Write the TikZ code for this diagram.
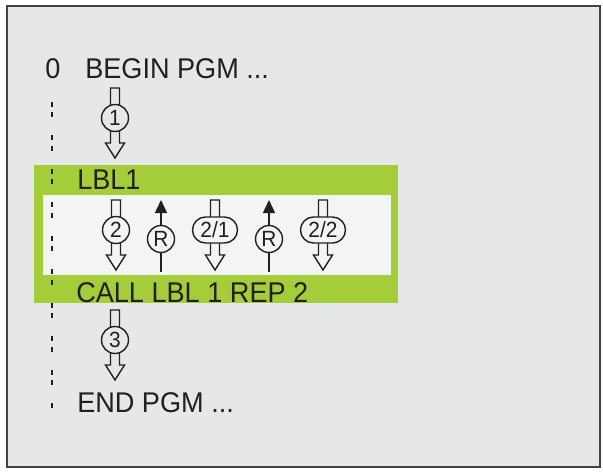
\documentclass[tikz,border=0pt]{standalone}
\usepackage{fontspec}
\setmainfont{Liberation Sans}[FakeStretch=0.95]
\usetikzlibrary{arrows.meta,shapes.misc}
\definecolor{bggray}{HTML}{E6E7E8}
\definecolor{lblgreen}{HTML}{A5CD39}
\definecolor{inwhite}{HTML}{F3F4F4}
\definecolor{ink}{HTML}{231F20}

\begin{document}
\begin{tikzpicture}[x=0.75pt,y=-0.75pt,
  line/.style={ink,line width=1.05pt},
  txt/.style={anchor=base west,inner sep=0pt,text=ink,font=\fontsize{21.4}{24}\selectfont},
  num/.style={circle,draw=ink,line width=1.05pt,fill=bggray,minimum size=20.25pt,inner sep=0pt,text=ink,font=\fontsize{16.5}{18}\selectfont},
  ovl/.style={num,rounded rectangle,minimum width=33.75pt,minimum height=19.5pt},
  harrow/.pic={\draw[line] (-4.5,-30) -- (-4.5,25) -- (-9.5,25) -- (0,40) -- (9.5,25) -- (4.5,25) -- (4.5,-30) -- cycle;},
  >={Triangle[length=9.75pt,width=9pt]}]
\useasboundingbox (0,0) rectangle (603,471);
\draw[fill=bggray,draw=ink!85,line width=1.2pt] (7,6) rectangle (600,467);
% label block
\fill[lblgreen] (34,165) rectangle (398,303);
\fill[inwhite] (43,195) rectangle (391,275);
\draw[ink,line width=1.1pt,dash pattern=on 3.75pt off 4.1pt on 3.75pt off 13.5pt] (52,102) -- (52,410);
% program lines
\node[txt] (zero) at (45,78) {0};
\node[txt] (begin) at (85,78) {BEGIN PGM ...};
\node[txt] (lbl) at (77,189) {LBL1};
\node[txt] (call) at (76,302) {CALL LBL 1 REP 2};
\node[txt] (endpgm) at (77,412) {END PGM ...};
% steps
\pic at (115,118) {harrow};
\node[num] (one) at (115,118) {1};
\pic at (116,230) {harrow};
\node[num,fill=inwhite] (two) at (116,230) {2};
\coordinate (rb1) at (161,272);
\coordinate (rt1) at (161,200);
\draw[line,->] (rb1) -- (rt1);
\node[num,fill=inwhite] (rep1) at (161,239) {R};
\pic at (215,230) {harrow};
\node[ovl,fill=inwhite] (twoa) at (215,230) {2/1};
\coordinate (rb2) at (269,272);
\coordinate (rt2) at (269,200);
\draw[line,->] (rb2) -- (rt2);
\node[num,fill=inwhite] (rep2) at (269,239) {R};
\pic at (323,230) {harrow};
\node[ovl,fill=inwhite] (twob) at (323,230) {2/2};
\pic at (115,340) {harrow};
\node[num] (three) at (115,340) {3};
\end{tikzpicture}
\end{document}
